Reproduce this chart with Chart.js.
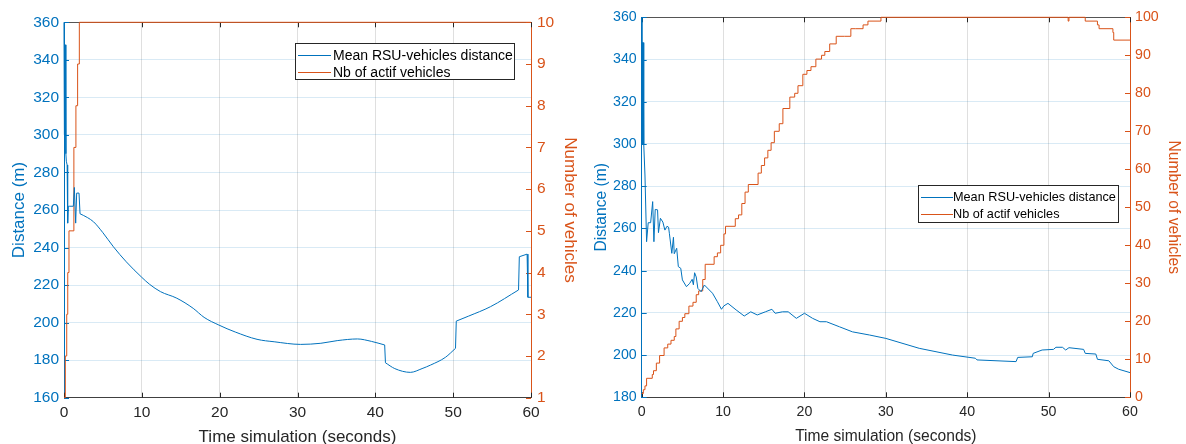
<!DOCTYPE html>
<html><head><meta charset="utf-8">
<script src="https://cdn.jsdelivr.net/npm/chart.js@4.4.1/dist/chart.umd.min.js"></script>
<style>
html,body{margin:0;padding:0;background:#fff;width:1186px;height:444px;overflow:hidden;font-family:'Liberation Sans',Arial,Helvetica,sans-serif}
canvas{position:absolute;top:0}
#c1{left:0}
#c2{left:586px}
.legend{position:absolute;background:#fff;border:1px solid #262626;box-sizing:border-box}
.row{position:absolute;white-space:nowrap;color:#000}
.swatch{position:absolute;height:0;border-top:1px solid}
</style></head>
<body>
<canvas id="c1" width="586" height="444"></canvas>
<canvas id="c2" width="600" height="444"></canvas>
<div class="legend" id="lg1" style="left:295px;top:43px;width:220px;height:37px"></div>
<div class="legend" id="lg2" style="left:918px;top:185px;width:201px;height:38px"></div>
<script>
// ---------- data ----------
const seriesNames = ['Mean RSU-vehicles distance', 'Nb of actif vehicles'];
const xTitle = 'Time simulation (seconds)';
const yLeftTitle = 'Distance (m)';
const yRightTitle = 'Number of vehicles';
const timeTicks = [0, 10, 20, 30, 40, 50, 60];

// left figure
const leftDistTicks = [160, 180, 200, 220, 240, 260, 280, 300, 320, 340, 360];
const leftCountTicks = [1, 2, 3, 4, 5, 6, 7, 8, 9, 10];
const leftDistT = [0, 0.06, 0.1, 0.14, 0.18, 0.24, 0.3, 0.4, 0.47, 0.56, 0.68, 1.2, 1.33, 1.5, 1.63, 1.93, 2.06, 3, 3.8, 5, 6.35, 8, 10, 11, 12.4, 14.5, 16.6, 18, 19.9, 22, 24.8, 27, 30.4, 33, 35.1, 37.7, 39.5, 41.2, 41.3, 42.5, 44.5, 46, 47.1, 49, 50.3, 50.4, 52, 54.8, 58.4, 58.5, 59.5, 59.6, 60];
const leftDistV = [360, 300, 348, 300, 348, 290, 286, 284, 253, 262, 262, 262, 272, 253, 269, 269, 258, 256, 253.7, 247.9, 240.4, 232.4, 224.1, 220.4, 216.5, 213, 207.6, 202.8, 198.7, 195, 191.1, 189.8, 188.4, 189, 190.4, 191.3, 190, 188.1, 178.6, 175.5, 173.5, 175.5, 177.4, 181.5, 186.3, 200.8, 203.5, 208.5, 217.4, 235.1, 236.5, 213.5, 213.5];
const leftCountT = [0, 0.17, 0.35, 0.48, 0.64, 1.27, 1.53, 1.75, 1.97, 60];
const leftCountV = [1, 2, 3, 4, 5, 7, 8, 9, 10, 10];

// right figure
const rightDistTicks = [180, 200, 220, 240, 260, 280, 300, 320, 340, 360];
const rightCountTicks = [0, 10, 20, 30, 40, 50, 60, 70, 80, 90, 100];
const rightDistT = [0, 0.03, 0.07, 0.12, 0.17, 0.25, 0.4, 0.6, 0.8, 1.1, 1.35, 1.5, 1.66, 1.95, 2.06, 2.3, 2.6, 2.85, 3.1, 3.3, 3.4, 3.7, 3.9, 4.0, 4.3, 4.5, 4.8, 5.0, 5.5, 5.9, 6.2, 6.35, 6.5, 6.7, 6.9, 7.3, 7.7, 8.7, 9.3, 9.8, 10.1, 10.6, 11.6, 12.6, 13.4, 14.2, 15.2, 16, 16.4, 17.3, 18, 19, 20, 21, 21.9, 22.7, 24.3, 25.9, 28, 30, 34.1, 38.2, 41, 41.2, 46, 46.2, 48, 48.1, 49.2, 50.6, 50.9, 51.7, 52.1, 52.5, 54.3, 54.5, 55.8, 56, 57.4, 58, 58.6, 60];
const rightDistV = [360, 300, 348, 300, 348, 300, 285.3, 253.7, 262.7, 262.7, 272.7, 253.7, 269, 268.8, 258, 264.8, 263, 259.2, 261, 260.6, 257.7, 248.2, 255.8, 248, 250.6, 241.9, 241.1, 235.6, 232.4, 234, 235.9, 233.3, 239, 237, 231.6, 230, 233.2, 229.3, 225.3, 221.7, 223.3, 224.5, 221.4, 218.5, 220.5, 219, 220.5, 221.7, 219.8, 220.5, 220.5, 217.4, 219.8, 217.4, 215.8, 215.8, 213.4, 211, 209.5, 207.9, 203.2, 200, 198.5, 197.7, 196.9, 198.9, 199.2, 200.8, 202.4, 202.7, 203.7, 203.7, 202.4, 203.5, 202.7, 200.8, 200.5, 198, 197.3, 194.5, 193.3, 191.7];
const rightCountT = [0, 0.2, 0.4, 0.6, 1.3, 1.45, 1.8, 2.2, 2.75, 3.2, 3.6, 4.0, 4.2, 4.6, 5.0, 5.3, 5.8, 6.3, 6.7, 7.0, 7.5, 7.8, 8.9, 9.3, 9.7, 10.1, 10.3, 11.5, 11.9, 12.3, 12.7, 13.1, 14.3, 14.7, 15.1, 15.5, 15.9, 16.3, 16.9, 17.35, 18.2, 18.8, 19.2, 19.8, 20.3, 20.8, 21.4, 22.1, 22.5, 23.1, 23.9, 24.9, 25.7, 26.3, 27.2, 27.8, 29.4, 52.4, 52.5, 54.5, 56.0, 56.2, 57.9, 58, 60];
const rightCountV = [1, 2, 3, 5, 6, 7, 9, 11, 13, 14, 15, 16, 18, 20, 21, 22, 24, 25, 27, 28, 31, 35, 37, 38, 40, 43, 45, 47, 48, 51, 54, 56, 59, 61, 63, 65, 67, 70, 72, 76, 79, 80, 82, 85, 86, 87, 89, 90, 91, 93, 95, 95, 97, 97, 98, 99, 100, 99, 100, 99, 98, 97, 96, 94, 94];

// ---------- styling ----------
const BLUE = '#0072BD';
const ORANGE = '#D95319';
const DARK = '#262626';
const FONT = "'Liberation Sans', Arial, Helvetica, sans-serif";

const pt = (T, V, i) => ({x: T[i], y: V[i]});
const pts = (T, V) => T.map((t, i) => pt(T, V, i));

// split a series into smooth runs (spline) and abrupt jumps (straight)
function splitSeries(T, V, gap) {
  const smooth = [], jumps = [];
  let inRun = false;
  for (let i = 0; i < T.length - 1; i++) {
    if (T[i + 1] - T[i] > gap) {
      if (!inRun) { if (smooth.length) smooth.push({x: T[i], y: null}); smooth.push(pt(T, V, i)); inRun = true; }
      smooth.push(pt(T, V, i + 1));
    } else {
      inRun = false;
      jumps.push(pt(T, V, i), pt(T, V, i + 1), {x: T[i + 1], y: null});
    }
  }
  return {smooth, jumps};
}

const framePlugin = {
  id: 'frame',
  beforeDatasetsDraw(chart) {
    const {ctx, chartArea: a, scales} = chart;
    ctx.save();
    ctx.lineWidth = 1;
    ctx.strokeStyle = '#555';
    ctx.beginPath(); ctx.moveTo(a.left, Math.round(a.top) + 0.5); ctx.lineTo(a.right, Math.round(a.top) + 0.5); ctx.stroke();
    const L = 5;
    ctx.strokeStyle = DARK;
    scales.x.ticks.forEach(t => {
      const px = Math.round(scales.x.getPixelForValue(t.value)) + 0.5;
      ctx.beginPath(); ctx.moveTo(px, a.bottom); ctx.lineTo(px, a.bottom - L); ctx.stroke();
      ctx.beginPath(); ctx.moveTo(px, a.top); ctx.lineTo(px, a.top + L); ctx.stroke();
    });
    ctx.strokeStyle = BLUE;
    scales.y.ticks.forEach(t => {
      const py = Math.round(scales.y.getPixelForValue(t.value)) + 0.5;
      ctx.beginPath(); ctx.moveTo(a.left, py); ctx.lineTo(a.left + L, py); ctx.stroke();
    });
    ctx.strokeStyle = ORANGE;
    scales.y1.ticks.forEach(t => {
      const py = Math.round(scales.y1.getPixelForValue(t.value)) + 0.5;
      ctx.beginPath(); ctx.moveTo(a.right, py); ctx.lineTo(a.right - L, py); ctx.stroke();
    });
    ctx.restore();
  }
};

function makeChart(id, cfg) {
  const tickArr = arr => (s) => { s.ticks = arr.map(v => ({value: v})); };
  const base = {yAxisID: 'y', borderColor: BLUE, borderWidth: 1, pointRadius: 0, clip: 3, order: 1, spanGaps: false};
  let distSets;
  if (cfg.smooth) {
    const parts = splitSeries(cfg.distT, cfg.distV, 0.15);
    distSets = [
      Object.assign({label: seriesNames[0], data: parts.smooth, cubicInterpolationMode: 'monotone', tension: 0.4}, base),
      Object.assign({label: seriesNames[0] + ' (jumps)', data: parts.jumps, tension: 0}, base)
    ];
  } else {
    distSets = [Object.assign({label: seriesNames[0], data: pts(cfg.distT, cfg.distV), tension: 0}, base)];
  }
  return new Chart(document.getElementById(id), {
    type: 'line',
    data: {
      datasets: distSets.concat([
        {label: seriesNames[1], data: pts(cfg.countT, cfg.countV), yAxisID: 'y1', borderColor: ORANGE, borderWidth: 1, pointRadius: 0, stepped: true, clip: 3, order: 2}
      ])
    },
    options: {
      responsive: false,
      animation: false,
      devicePixelRatio: 1,
      layout: {padding: {top: cfg.top, left: 0, right: 0, bottom: 0}},
      plugins: {legend: {display: false}, tooltip: {enabled: false}},
      scales: {
        x: {
          type: 'linear', min: 0, max: 60,
          afterBuildTicks: tickArr(timeTicks),
          afterFit: s => { s.height = cfg.xH; },
          ticks: {color: DARK, font: {family: FONT, size: cfg.tickSize}, padding: cfg.xPad, maxRotation: 0},
          grid: {color: 'rgba(38,38,38,0.15)', drawTicks: false},
          border: {color: '#404040', width: 1},
          title: {display: true, text: xTitle, color: DARK, font: {family: FONT, size: cfg.titleSize, lineHeight: 0.8}, padding: {top: 0, bottom: cfg.xTitlePad}}
        },
        y: {
          type: 'linear', position: 'left', min: cfg.yMin, max: cfg.yMax,
          afterBuildTicks: tickArr(cfg.yTicks),
          afterFit: s => { s.width = cfg.yW; },
          ticks: {color: BLUE, font: {family: FONT, size: cfg.tickSize}, padding: cfg.yPad},
          grid: {color: 'rgba(0,114,189,0.15)', drawTicks: false},
          border: {color: BLUE, width: 1},
          title: {display: true, text: yLeftTitle, color: BLUE, font: {family: FONT, size: cfg.titleSize}, padding: {top: cfg.yTitlePad, bottom: 0}}
        },
        y1: {
          type: 'linear', position: 'right', min: cfg.y1Min, max: cfg.y1Max,
          afterBuildTicks: tickArr(cfg.y1Ticks),
          afterFit: s => { s.width = cfg.y1W; },
          ticks: {color: ORANGE, font: {family: FONT, size: cfg.tickSize}, padding: cfg.y1Pad},
          grid: {display: false, drawTicks: false},
          border: {color: ORANGE, width: 1},
          title: {display: true, text: yRightTitle, color: ORANGE, font: {family: FONT, size: cfg.titleSize}, padding: {top: cfg.y1TitlePad, bottom: 0}}
        }
      }
    },
    plugins: [framePlugin]
  });
}

makeChart('c1', {
  distT: leftDistT, distV: leftDistV, countT: leftCountT, countV: leftCountV, smooth: true,
  yMin: 160, yMax: 360, yTicks: leftDistTicks, y1Min: 1, y1Max: 10, y1Ticks: leftCountTicks,
  top: 22.3, xH: 46.3, yW: 64, y1W: 55,
  tickSize: 15.5, titleSize: 17, xPad: 6, yPad: 5, y1Pad: 6,
  xTitlePad: 0, yTitlePad: 9, y1TitlePad: 6.5
});
makeChart('c2', {
  distT: rightDistT, distV: rightDistV, countT: rightCountT, countV: rightCountV, smooth: false,
  yMin: 180, yMax: 360, yTicks: rightDistTicks, y1Min: 0, y1Max: 100, y1Ticks: rightCountTicks,
  top: 17.3, xH: 46.7, yW: 55.7, y1W: 56,
  tickSize: 14.2, titleSize: 15.6, xPad: 6, yPad: 5, y1Pad: 5,
  xTitlePad: 1.5, yTitlePad: 6, y1TitlePad: 3.3
});

// ---------- legends ----------
function buildLegend(id, fontSize, swL, swW, txtL, rows) {
  const el = document.getElementById(id);
  const colors = [BLUE, ORANGE];
  seriesNames.forEach((name, i) => {
    const sw = document.createElement('div');
    sw.className = 'swatch';
    sw.style.cssText = `left:${swL}px;width:${swW}px;top:${rows[i]}px;border-top-color:${colors[i]}`;
    el.appendChild(sw);
    const tx = document.createElement('div');
    tx.className = 'row';
    tx.textContent = name;
    tx.style.cssText = `left:${txtL}px;top:${rows[i] - 10}px;line-height:20px;font-size:${fontSize}px`;
    el.appendChild(tx);
  });
}
buildLegend('lg1', 14, 2, 33, 37, [10.5, 28]);
buildLegend('lg2', 12.7, 2, 32, 34, [11, 27.5]);
</script>
</body></html>
